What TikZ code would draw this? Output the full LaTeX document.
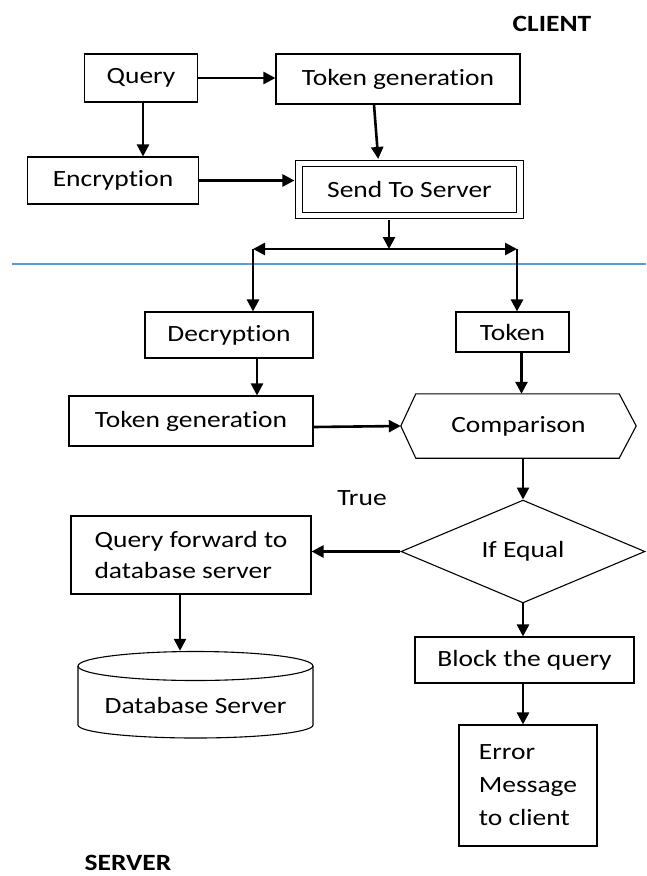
\documentclass[tikz,border=0pt]{standalone}
\usepackage{fontspec}
\setmainfont{Carlito}[FakeStretch=1.18,Ligatures={NoCommon}]
\usetikzlibrary{arrows.meta,shapes.geometric,calc}
\begin{document}
\begin{tikzpicture}[x=1pt,y=1pt,
  box/.style={draw,line width=1.1pt,inner sep=0pt,font=\fontsize{23.3pt}{31pt}\selectfont},
  lbl/.style={inner sep=0pt,font=\fontsize{23.3pt}{28pt}\selectfont},
  arr/.style={line width=2.6pt,-{Triangle[length=12pt,width=12pt]}},
]
\useasboundingbox (0,0) rectangle (646,-876);
% labels
\node[lbl,font=\fontsize{23.3pt}{28pt}\selectfont\bfseries] (client) at (552,-24) {CLIENT};
\node[lbl,font=\fontsize{23.3pt}{28pt}\selectfont\bfseries] (server) at (128,-863) {SERVER};
\node[lbl] (true) at (362,-498) {True};
% separator
\draw[color={rgb,255:red,91;green,155;blue,213},line width=1.2pt] (12,-264) coordinate (sepL) -- (646,-264) coordinate (sepR);
% client nodes
\node[box,minimum width=113pt,minimum height=48pt] (query) at (141,-78) {Query};
\node[box,minimum width=244pt,minimum height=50pt] (tg1) at (398,-79) {Token generation};
\node[box,minimum width=171pt,minimum height=47pt] (enc) at (113,-180.5) {Encryption};
\node[box,double,double distance=5.5pt,line width=1.1pt,minimum width=221pt,minimum height=52pt] (send) at (409.5,-189.5) {Send To Server};
% bar coordinates
\coordinate (bm) at (389,-249);
\coordinate (bl) at (253,-249);
\coordinate (br) at (517,-249);
% server nodes
\node[box,minimum width=168pt,minimum height=46pt] (dec) at (229,-335) {Decryption};
\node[box,minimum width=113pt,minimum height=40pt] (tok) at (512.5,-332) {Token};
\node[box,minimum width=244pt,minimum height=50pt] (tg2) at (191,-421) {Token generation};
\node[lbl,minimum width=235pt,minimum height=64pt] (comp) at (518.5,-426) {Comparison};
\draw[line width=1.1pt] (comp.west) -- ([xshift=15pt]comp.north west) -- ([xshift=-17pt]comp.north east)
  -- (comp.east) -- ([xshift=-17pt]comp.south east) -- ([xshift=15pt]comp.south west) -- cycle;
\node[box,diamond,minimum width=244pt,minimum height=89pt] (ifeq) at (523,-551.5) {If Equal};
\node[box,align=left,minimum width=240pt,minimum height=78pt] (qf) at (191,-555) {Query forward to\\database server};
\node[lbl,minimum width=235pt,minimum height=87pt] (db) at (195.5,-694.5) {};
\node[lbl] (dbt) at (195.5,-705) {Database Server};
\draw[line width=1.1pt] (195.5,-666) ellipse [x radius=117.5pt, y radius=14.5pt];
\draw[line width=1.1pt] (78,-666) -- (78,-725) arc[start angle=180,end angle=360,x radius=117.5pt,y radius=13pt] -- (313,-666);
\node[box,minimum width=219pt,minimum height=46pt] (blk) at (524.5,-660) {Block the query};
\node[box,align=left,minimum width=138pt,minimum height=121pt,font=\fontsize{23.3pt}{33pt}\selectfont] (err) at (528,-785.5) {Error\\Message\\to client};
% connectors
\draw[arr] (query.east) -- (query.east -| tg1.west);
\draw[arr] ([xshift=2pt]query.south) -- ([xshift=2pt]query.south |- enc.north);
\draw[arr,shorten >=4pt] ([xshift=-24pt]tg1.south) -- ([xshift=-31pt]send.north);
\draw[arr,shorten >=4pt] (enc.east) -- (enc.east -| send.west);
\draw[arr,shorten <=4pt] ([xshift=-20.5pt]send.south) -- (bm);
\draw[arr] (bm) -- (bl);
\draw[arr] (bm) -- (br);
\draw[arr] (bl) -- (bl |- dec.north);
\draw[arr] (br) -- (br |- tok.north);
\draw[arr] ([xshift=28pt]dec.south) -- ([xshift=28pt]dec.south |- tg2.north);
\draw[arr] ([xshift=9pt]tok.south) -- ([xshift=9pt]tok.south |- comp.north);
\draw[arr] ([yshift=-6pt]tg2.east) -- (comp.west);
\draw[arr] ([xshift=4.5pt]comp.south) -- (ifeq.north);
\draw[arr] (ifeq.west) -- (ifeq.west -| qf.east);
\draw[arr] ([xshift=-11pt]qf.south) -- ([xshift=-11pt]qf.south |- db.north);
\draw[arr] (ifeq.south) -- (ifeq.south |- blk.north);
\draw[arr] ([xshift=-1.5pt]blk.south) -- ([xshift=-1.5pt]blk.south |- err.north);
\end{tikzpicture}
\end{document}
